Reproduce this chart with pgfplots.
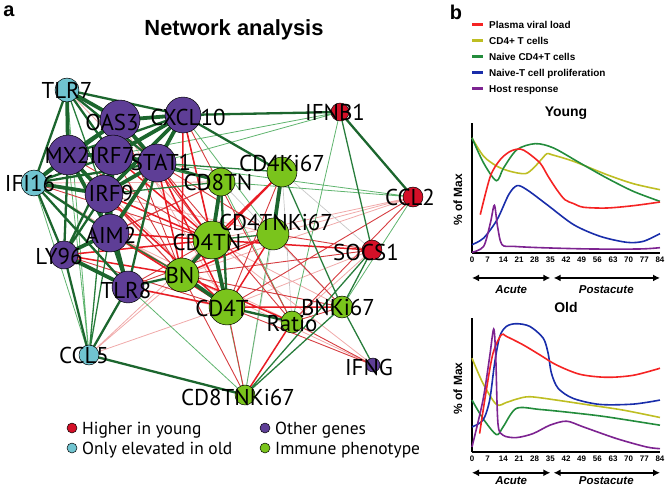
\documentclass[border=0pt]{standalone}
\usepackage{pgfplots}
\pgfplotsset{compat=1.18}
\usepackage{fontspec}
\setmainfont{PT Sans}
\newfontfamily\hv{Liberation Sans}
\usetikzlibrary{arrows.meta}
\definecolor{dkg}{RGB}{28,102,46}
\definecolor{mdg}{RGB}{40,125,60}
\definecolor{ltg}{RGB}{95,180,110}
\definecolor{rd}{RGB}{232,28,36}
\definecolor{rdt}{RGB}{214,60,64}
\definecolor{pk}{RGB}{240,170,170}
\definecolor{npur}{RGB}{94,62,150}
\definecolor{ncy}{RGB}{112,196,208}
\definecolor{ngr}{RGB}{122,196,28}
\definecolor{nrd}{RGB}{212,16,40}
\definecolor{bred}{RGB}{245,35,35}
\definecolor{byel}{RGB}{190,190,35}
\definecolor{bgrn}{RGB}{35,140,60}
\definecolor{bblu}{RGB}{25,45,170}
\definecolor{bpur}{RGB}{125,35,145}
\tikzset{
 lab/.style={font=\fontsize{23}{25}\selectfont, anchor=base, inner sep=0pt},
 leg/.style={font=\fontsize{17.5}{19}\selectfont, anchor=base west, inner sep=0pt},
 bleg/.style={font=\hv\bfseries\fontsize{10}{11}\selectfont, anchor=base west, inner sep=0pt},
}
\pgfplotsset{
 nd/.style 2 args={only marks, mark=*, mark size=#2pt, mark options={fill=#1, draw=black, line width=0.5bp}},
 edge/.style={mark=none, line cap=round},
 full/.style={at={(0,0)}, anchor=south west, width=666bp, height=489bp, scale only axis,
  xmin=0, xmax=666, ymin=0, ymax=489, y dir=reverse, hide axis, clip=false,
  unbounded coords=jump},
 panel/.style={anchor=south west, width=188bp, scale only axis,
  xmin=0, xmax=84, ymin=0, ymax=100,
  axis x line*=bottom, axis y line*=left,
  axis line style={line width=1.6bp},
  xtick={0,7,...,84}, ytick=\empty, major tick length=0pt,
  xticklabel style={font=\hv\bfseries\fontsize{8}{9}\selectfont},
  /pgf/number format/assume math mode=true,
  clip=false},
 curve/.style={mark=none, smooth, line width=1.6bp},
}
\begin{document}
\begin{tikzpicture}
\path[use as bounding box] (0,0) rectangle (666bp,489bp);
\begin{axis}[full]
% ---- pink light edges
\addplot[edge, draw=pk, line width=0.8bp] coordinates {
(89,355)(182,275) (nan,nan) (89,355)(227,307) (nan,nan) (89,355)(212,240) (nan,nan)
(413,197)(273,234) (nan,nan) (413,197)(212,240) (nan,nan) (372,250)(227,307) (nan,nan)
(34,183)(221,182) (nan,nan) (67,90)(212,240) (nan,nan) (373,365)(182,275) (nan,nan)
(373,365)(212,240) (nan,nan) (64,255)(273,234) (nan,nan) (110,233)(292,322) (nan,nan)
(128,287)(292,322) (nan,nan) (104,194)(273,234) (nan,nan) (342,307)(212,240) (nan,nan)
(120,120)(227,307) (nan,nan) (68,155)(227,307) (nan,nan) (34,183)(182,275) (nan,nan)
(413,197)(182,275) (nan,nan) (372,250)(292,322)};
\addplot[edge, draw=black!22, line width=0.7bp] coordinates {
(282,172)(292,322) (nan,nan) (282,172)(372,250) (nan,nan) (221,182)(342,307) (nan,nan) (273,234)(245,395)};
% ---- light green edges
\addplot[edge, draw=ltg, line width=0.8bp] coordinates {
(340,112)(292,322) (nan,nan) (340,112)(113,155) (nan,nan) (34,183)(89,355) (nan,nan)
(68,155)(89,355) (nan,nan) (413,197)(221,182) (nan,nan) (413,197)(342,307) (nan,nan)
(183,115)(273,234) (nan,nan) (212,240)(245,395) (nan,nan) (67,90)(89,355) (nan,nan)
(282,172)(245,395) (nan,nan) (157,163)(340,112) (nan,nan) (128,287)(245,395) (nan,nan)
(157,163)(413,197) (nan,nan) (221,182)(292,322)};
% ---- thin red edges
\addplot[edge, draw=rdt, line width=0.9bp] coordinates {
(183,115)(227,307) (nan,nan) (157,163)(273,234) (nan,nan) (104,194)(182,275) (nan,nan)
(113,155)(182,275) (nan,nan) (120,120)(212,240) (nan,nan) (120,120)(182,275) (nan,nan)
(68,155)(212,240) (nan,nan) (68,155)(182,275) (nan,nan) (34,183)(212,240) (nan,nan)
(64,255)(227,307) (nan,nan) (128,287)(212,240) (nan,nan) (245,395)(227,307) (nan,nan)
(245,395)(182,275) (nan,nan) (372,250)(182,275) (nan,nan) (372,250)(273,234) (nan,nan)
(413,197)(292,322) (nan,nan) (413,197)(227,307) (nan,nan) (342,307)(182,275) (nan,nan)
(342,307)(292,322) (nan,nan) (342,307)(273,234) (nan,nan) (373,365)(227,307) (nan,nan)
(373,365)(292,322) (nan,nan) (282,172)(227,307) (nan,nan) (64,255)(221,182) (nan,nan)
(110,233)(221,182) (nan,nan) (128,287)(273,234) (nan,nan) (183,115)(292,322) (nan,nan)
(157,163)(292,322)};
% ---- red edges
\addplot[edge, draw=rd, line width=1.5bp] coordinates {
(183,115)(212,240) (nan,nan) (157,163)(212,240) (nan,nan) (157,163)(182,275) (nan,nan)
(104,194)(212,240) (nan,nan) (110,233)(212,240) (nan,nan) (110,233)(182,275) (nan,nan)
(64,255)(182,275) (nan,nan) (64,255)(212,240) (nan,nan) (128,287)(227,307) (nan,nan)
(104,194)(227,307) (nan,nan) (110,233)(227,307) (nan,nan) (282,172)(212,240) (nan,nan)
(282,172)(182,275) (nan,nan) (273,234)(182,275) (nan,nan) (292,322)(182,275) (nan,nan)
(292,322)(245,395) (nan,nan) (372,250)(212,240) (nan,nan) (342,307)(227,307) (nan,nan)
(157,163)(227,307) (nan,nan) (183,115)(182,275) (nan,nan) (113,155)(212,240) (nan,nan)
(273,234)(227,307)};
% ---- medium green edges
\addplot[edge, draw=mdg, line width=1.3bp] coordinates {
(340,112)(372,250) (nan,nan) (282,172)(342,307) (nan,nan) (342,307)(373,365) (nan,nan)
(245,395)(342,307) (nan,nan) (372,250)(245,395) (nan,nan) (212,240)(273,234) (nan,nan)
(157,163)(282,172) (nan,nan) (110,233)(89,355) (nan,nan) (104,194)(89,355) (nan,nan)
(182,275)(110,233) (nan,nan) (221,182)(104,194) (nan,nan) (221,182)(113,155) (nan,nan)
(342,307)(372,250) (nan,nan) (67,90)(104,194)};
% ---- dark green edges
\addplot[edge, draw=dkg, line width=2.3bp] coordinates {
(67,90)(113,155) (nan,nan) (67,90)(183,115) (nan,nan) (67,90)(34,183) (nan,nan)
(67,90)(157,163) (nan,nan) (120,120)(104,194) (nan,nan) (120,120)(34,183) (nan,nan)
(183,115)(68,155) (nan,nan) (113,155)(34,183) (nan,nan) (34,183)(110,233) (nan,nan)
(34,183)(64,255) (nan,nan) (104,194)(64,255) (nan,nan) (104,194)(128,287) (nan,nan)
(64,255)(89,355) (nan,nan) (128,287)(89,355) (nan,nan) (157,163)(221,182) (nan,nan)
(221,182)(227,307) (nan,nan) (227,307)(292,322) (nan,nan) (182,275)(128,287) (nan,nan)
(89,355)(245,395) (nan,nan) (340,112)(413,197) (nan,nan) (183,115)(340,112) (nan,nan)
(183,115)(282,172) (nan,nan) (157,163)(128,287) (nan,nan) (113,155)(64,255) (nan,nan)
(68,155)(64,255) (nan,nan) (34,183)(128,287) (nan,nan) (34,183)(157,163)};
\addplot[edge, draw=dkg, line width=3.8bp] coordinates {
(67,90)(120,120) (nan,nan) (67,90)(68,155) (nan,nan) (120,120)(183,115) (nan,nan)
(120,120)(68,155) (nan,nan) (120,120)(113,155) (nan,nan) (120,120)(157,163) (nan,nan)
(183,115)(113,155) (nan,nan) (183,115)(157,163) (nan,nan) (183,115)(104,194) (nan,nan)
(68,155)(113,155) (nan,nan) (68,155)(34,183) (nan,nan) (68,155)(104,194) (nan,nan)
(68,155)(110,233) (nan,nan) (113,155)(157,163) (nan,nan) (113,155)(104,194) (nan,nan)
(113,155)(110,233) (nan,nan) (157,163)(104,194) (nan,nan) (157,163)(110,233) (nan,nan)
(34,183)(104,194) (nan,nan) (104,194)(110,233) (nan,nan) (110,233)(64,255) (nan,nan)
(110,233)(128,287) (nan,nan) (64,255)(128,287) (nan,nan) (221,182)(212,240) (nan,nan)
(212,240)(227,307) (nan,nan) (212,240)(182,275) (nan,nan) (182,275)(227,307) (nan,nan)
(282,172)(273,234)};
% ---- nodes (purple)
\addplot[nd={npur}{20}] coordinates {(120,120)};
\addplot[nd={npur}{18}] coordinates {(183,115)};
\addplot[nd={npur}{20}] coordinates {(68,155)};
\addplot[nd={npur}{20}] coordinates {(113,155)};
\addplot[nd={npur}{19}] coordinates {(157,163)};
\addplot[nd={npur}{19}] coordinates {(104,194)};
\addplot[nd={npur}{19}] coordinates {(110,233)};
\addplot[nd={npur}{14}] coordinates {(64,255)};
\addplot[nd={npur}{16}] coordinates {(128,287)};
\addplot[nd={npur}{7}] coordinates {(373,365)};
% cyan
\addplot[nd={ncy}{12}] coordinates {(67,90)};
\addplot[nd={ncy}{13}] coordinates {(34,183)};
\addplot[nd={ncy}{10}] coordinates {(89,355)};
% red
\addplot[nd={nrd}{9}] coordinates {(340,112)};
\addplot[nd={nrd}{10}] coordinates {(372,250)};
\addplot[nd={nrd}{10}] coordinates {(413,197)};
% green
\addplot[nd={ngr}{14}] coordinates {(221,182)};
\addplot[nd={ngr}{15}] coordinates {(282,172)};
\addplot[nd={ngr}{16}] coordinates {(273,234)};
\addplot[nd={ngr}{19}] coordinates {(212,240)};
\addplot[nd={ngr}{17}] coordinates {(182,275)};
\addplot[nd={ngr}{18}] coordinates {(227,307)};
\addplot[nd={ngr}{11}] coordinates {(292,322)};
\addplot[nd={ngr}{11}] coordinates {(342,307)};
\addplot[nd={ngr}{10}] coordinates {(245,395)};
% ---- legend a dots
\addplot[nd={nrd}{5}] coordinates {(72,428)};
\addplot[nd={ncy}{5}] coordinates {(72,448)};
\addplot[nd={npur}{5}] coordinates {(265,428)};
\addplot[nd={ngr}{5}] coordinates {(265,448)};
% ---- legend b
\addplot[mark=none, draw=bred, line width=3bp] coordinates {(472,25)(483,25)};
\addplot[mark=none, draw=byel, line width=3bp] coordinates {(472,41)(483,41)};
\addplot[mark=none, draw=bgrn, line width=3bp] coordinates {(472,57)(483,57)};
\addplot[mark=none, draw=bblu, line width=3bp] coordinates {(472,73)(483,73)};
\addplot[mark=none, draw=bpur, line width=3bp] coordinates {(472,89)(483,89)};
\end{axis}
% ======== texts on top
\begin{axis}[full]
\node[lab] at (axis cs:67,98) {TLR7};
\node[lab] at (axis cs:112,130) {OAS3};
\node[lab] at (axis cs:188,125) {CXCL10};
\node[lab] at (axis cs:335,120) {IFNB1};
\node[lab] at (axis cs:67,163) {MX2};
\node[lab] at (axis cs:112,163) {IRF7};
\node[lab] at (axis cs:161,170) {STAT1};
\node[lab] at (axis cs:30,191) {IFI16};
\node[lab] at (axis cs:111,201) {IRF9};
\node[lab] at (axis cs:218,190) {CD8TN};
\node[lab] at (axis cs:282,171) {CD4Ki67};
\node[lab] at (axis cs:276,230) {CD4TNKi67};
\node[lab] at (axis cs:111,243) {AIM2};
\node[lab] at (axis cs:207,250.5) {CD4TN};
\node[lab] at (axis cs:59,264) {LY96};
\node[lab] at (axis cs:180,283) {BN};
\node[lab] at (axis cs:126,298) {TLR8};
\node[lab] at (axis cs:222,316) {CD4T};
\node[lab] at (axis cs:292,331) {Ratio};
\node[lab] at (axis cs:338,315.5) {BNKi67};
\node[lab] at (axis cs:366,260) {SOCS1};
\node[lab] at (axis cs:410,205) {CCL2};
\node[lab] at (axis cs:84,363) {CCL5};
\node[lab] at (axis cs:238,405) {CD8TNKi67};
\node[lab] at (axis cs:369,375) {IFNG};
\node[leg] at (axis cs:82,434) {Higher in young};
\node[leg] at (axis cs:82,454) {Only elevated in old};
\node[leg] at (axis cs:275,434) {Other genes};
\node[leg] at (axis cs:275,454) {Immune phenotype};
\node[font=\hv\bfseries\fontsize{20}{22}\selectfont, anchor=base, inner sep=0pt] at (axis cs:9,17) {a};
\node[font=\hv\bfseries\fontsize{22}{24}\selectfont, anchor=base, inner sep=0pt] at (axis cs:234,36) {Network analysis};
\node[font=\hv\bfseries\fontsize{20}{22}\selectfont, anchor=base, inner sep=0pt] at (axis cs:456,20) {b};
\node[bleg] at (axis cs:489,28.6) {Plasma viral load};
\node[bleg] at (axis cs:489,44.6) {CD4+ T cells};
\node[bleg] at (axis cs:489,60.6) {Naive CD4+T cells};
\node[bleg] at (axis cs:489,76.6) {Naive-T cell proliferation};
\node[bleg] at (axis cs:489,92.6) {Host response};
\end{axis}
% ================= Young
\begin{axis}[panel, at={(472bp,236bp)}, height=130bp]
\addplot[curve, draw=byel] coordinates {(0,88.5)(5.2,74.4)(11.2,66.7)(17.1,62.8)(23.8,61)(27.5,65.4)(31,72)(33.5,76.4)(35.7,75.6)(45.4,70.5)(60.2,60.3)(72.1,53.3)(84,48.7)};
\addplot[curve, draw=bgrn] coordinates {(0,88.5)(5.2,69.2)(10.9,55.6)(14.1,65.4)(20.1,79.5)(28.3,84.1)(36.4,80.8)(48.3,69.2)(60.2,57.7)(72.1,47.4)(84,39.7)};
\addplot[curve, draw=bred] coordinates {(3.7,29.5)(8.2,59)(12.6,71.8)(17.1,78.2)(21.5,80)(25,77)(30.5,69)(34,59)(37.9,48.7)(41.5,41)(45.4,38)(49.8,35.2)(60.2,34.6)(72.1,36.4)(84,39.2)};
\addplot[curve, draw=bblu] coordinates {(0,6.4)(5.2,11.5)(11.2,25.6)(16.4,44.9)(20.1,51.8)(24.5,48.7)(33.5,37.2)(45.4,21.8)(57.3,12.8)(69.2,8.2)(76.6,9)(84,14.9)};
\addplot[curve, draw=bpur] coordinates {(0,0.5)(5.2,5.1)(8.2,23)(10,36.7)(11.4,20.5)(13.4,6.4)(18.6,5.1)(30.5,4.1)(52.8,3.1)(75.1,3.1)(84,4.1)};
\draw[{Latex[length=7bp,width=7bp]}-{Latex[length=7bp,width=7bp]}, line width=1.8bp] (axis cs:0,-19.2) -- (axis cs:35,-19.2);
\draw[{Latex[length=7bp,width=7bp]}-{Latex[length=7bp,width=7bp]}, line width=1.8bp] (axis cs:36.5,-19.2) -- (axis cs:84,-19.2);
\node[font=\hv\bfseries\itshape\fontsize{11.5}{12}\selectfont, anchor=base, inner sep=0pt] at (axis cs:17.5,-30.8) {Acute};
\node[font=\hv\bfseries\itshape\fontsize{11.5}{12}\selectfont, anchor=base, inner sep=0pt] at (axis cs:60,-30.8) {Postacute};
\node[font=\hv\bfseries\fontsize{12}{13}\selectfont, rotate=90, inner sep=0pt] at (axis cs:-6.3,41) {\% of Max};
\node[font=\hv\bfseries\fontsize{14}{15}\selectfont, anchor=base, inner sep=0pt] at (axis cs:42,104.8) {Young};
\end{axis}
% ================= Old
\begin{axis}[panel, at={(472bp,37bp)}, height=134bp]
\addplot[curve, draw=byel] coordinates {(0,70)(4.9,51.25)(10.9,35.5)(15.4,37)(20,39.5)(25.8,41.25)(37.7,38.75)(52.7,35)(67.6,31.25)(84,25.75)};
\addplot[curve, draw=bgrn] coordinates {(0,38.75)(4.9,25)(10.9,13)(13.9,18.75)(19.8,32.5)(30.3,31.75)(45.2,29.25)(60.1,26.25)(84,20)};
\addplot[curve, draw=bblu] coordinates {(0,18.75)(4.9,23.75)(7.9,38.75)(10.1,66.25)(12.4,86.25)(15.4,93.75)(19.8,95.75)(25.8,93.75)(31.8,85)(34,73.75)(35.5,58.75)(38.5,47.5)(45.2,40)(57.1,35.5)(72.1,35.75)(84,38.75)};
\addplot[curve, draw=bred] coordinates {(3.4,13.75)(6.4,46.25)(9.4,73.75)(13.1,87.5)(15.4,86.25)(22.8,80)(30.3,72.5)(37.7,65)(48.2,58)(60.1,55.75)(72.1,57.25)(84,62.5)};
\addplot[curve, draw=bpur] coordinates {(0,3.75)(4.9,38.75)(7.9,71.25)(9.7,91.75)(10.6,71.25)(11.6,21.25)(13.9,12.5)(19.8,10.75)(27.3,13.75)(34.8,20)(42.2,23)(49.7,18.75)(64.6,10)(78,3.75)(84,2.5)};
\draw[{Latex[length=7bp,width=7bp]}-{Latex[length=7bp,width=7bp]}, line width=1.8bp] (axis cs:0,-15.5) -- (axis cs:35,-15.5);
\draw[{Latex[length=7bp,width=7bp]}-{Latex[length=7bp,width=7bp]}, line width=1.8bp] (axis cs:36.5,-15.5) -- (axis cs:84,-15.5);
\node[font=\hv\bfseries\itshape\fontsize{11.5}{12}\selectfont, anchor=base, inner sep=0pt] at (axis cs:17.5,-24.6) {Acute};
\node[font=\hv\bfseries\itshape\fontsize{11.5}{12}\selectfont, anchor=base, inner sep=0pt] at (axis cs:60,-24.6) {Postacute};
\node[font=\hv\bfseries\fontsize{12}{13}\selectfont, rotate=90, inner sep=0pt] at (axis cs:-6.3,47.5) {\% of Max};
\node[font=\hv\bfseries\fontsize{14}{15}\selectfont, anchor=base, inner sep=0pt] at (axis cs:42,104.3) {Old};
\end{axis}
\end{tikzpicture}
\end{document}
